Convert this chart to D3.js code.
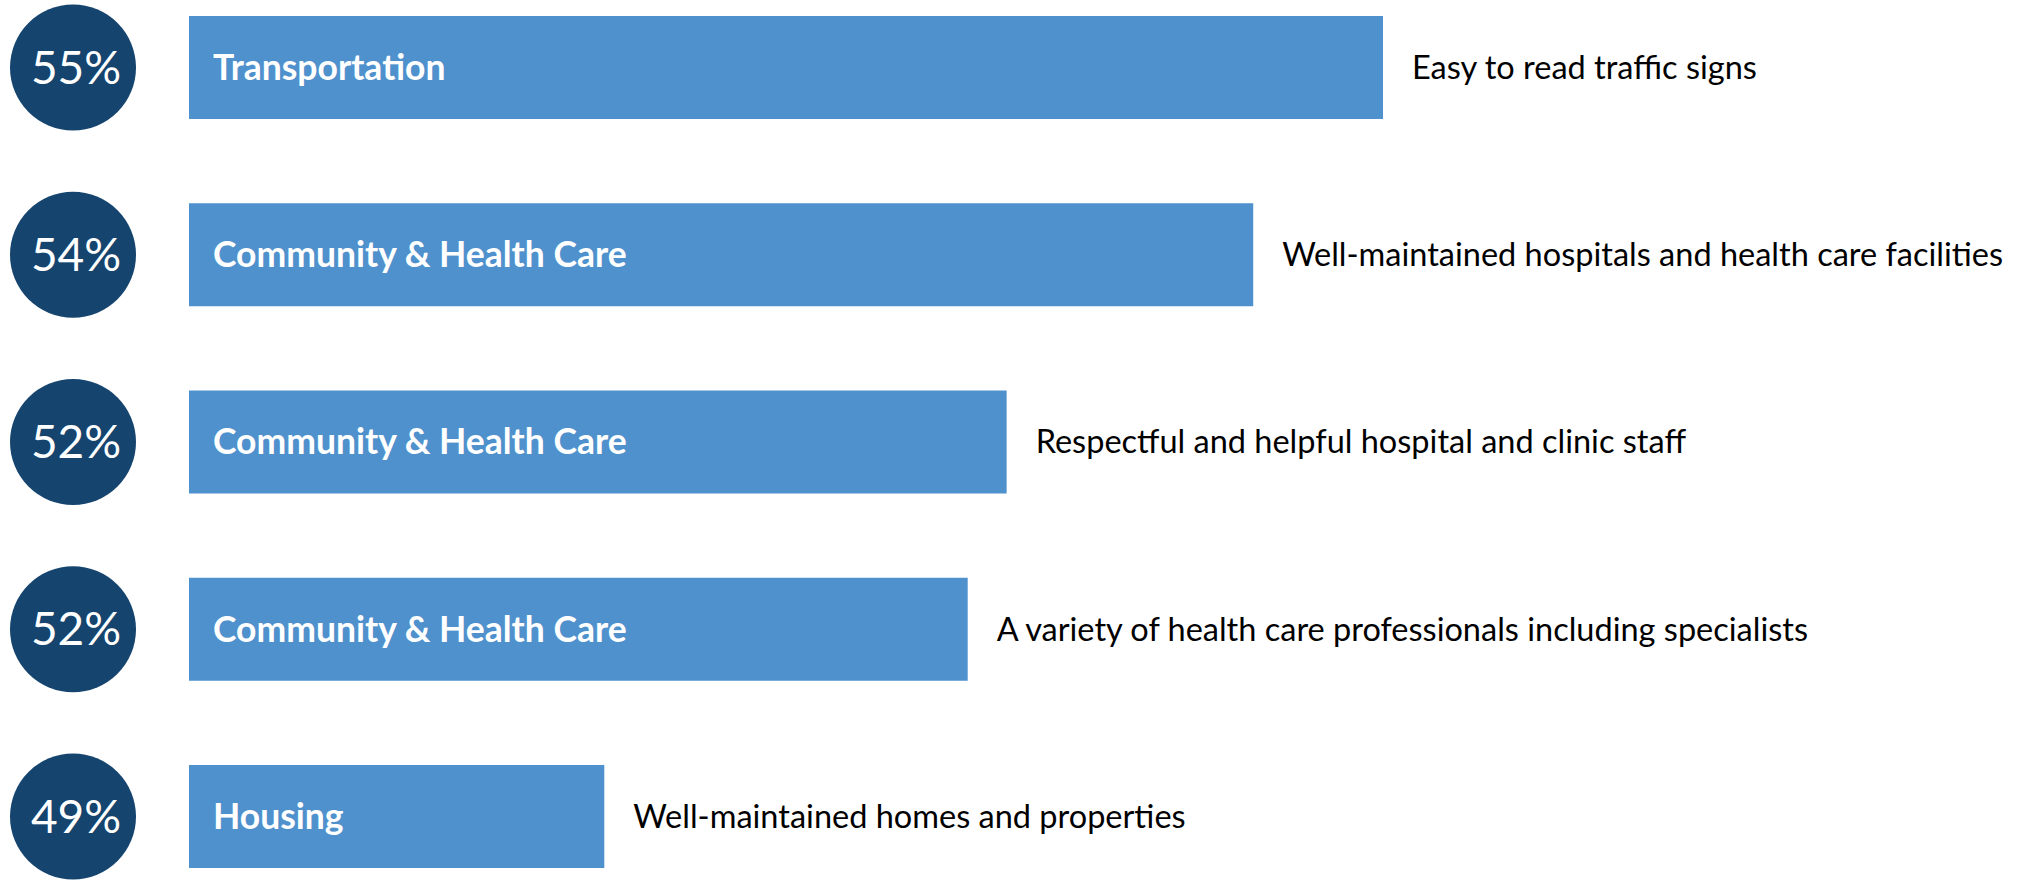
<!DOCTYPE html>
<html>
<head>
<meta charset="utf-8">
<script src="https://cdn.jsdelivr.net/npm/d3@7"></script>
<style>
  body { margin: 0; background: #fff; }
  svg { display: block; }
</style>
</head>
<body>
<script>
// values (labels are rounded to whole percent)
const values = [55.0, 54.0, 52.1, 51.8, 49.0];
const categories = ["Transportation", "Community & Health Care", "Community & Health Care", "Community & Health Care", "Housing"];
const descriptions = [
  "Easy to read traffic signs",
  "Well-maintained hospitals and health care facilities",
  "Respectful and helpful hospital and clinic staff",
  "A variety of health care professionals including specialists",
  "Well-maintained homes and properties"
];

const width = 2022;
const height = 880;

const svg = d3.select("body").append("svg")
  .attr("width", width)
  .attr("height", height);

const x = d3.scaleLinear()
  .domain([45.8, 55])
  .range([189, 1383]);

const y = d3.scaleBand()
  .domain(d3.range(values.length))
  .range([16, 868])
  .paddingInner(0.45)
  .paddingOuter(0);

const font = "Lato, 'Open Sans', sans-serif";

const rows = svg.selectAll("g.row")
  .data(values)
  .enter().append("g")
    .attr("class", "row")
    .attr("transform", (d, i) => `translate(0, ${y(i)})`);

rows.append("rect")
  .attr("x", x(45.8))
  .attr("y", 0)
  .attr("width", d => x(d) - x(45.8))
  .attr("height", y.bandwidth())
  .attr("fill", "#4f91cd");

rows.append("circle")
  .attr("cx", 73)
  .attr("cy", y.bandwidth() / 2)
  .attr("r", 63)
  .attr("fill", "#15446f");

rows.append("text")
  .attr("x", 76)
  .attr("y", y.bandwidth() / 2)
  .attr("dy", "0.35em")
  .attr("text-anchor", "middle")
  .attr("fill", "#fff")
  .style("font-family", font)
  .style("font-size", "46px")
  .text(d => Math.round(d) + "%");

rows.append("text")
  .attr("x", 213)
  .attr("y", y.bandwidth() / 2)
  .attr("dy", "0.35em")
  .attr("fill", "#fff")
  .style("font-family", font)
  .style("font-weight", "bold")
  .style("font-size", "35.5px")
  .text((d, i) => categories[i]);

rows.append("text")
  .attr("x", d => x(d) + 29)
  .attr("y", y.bandwidth() / 2)
  .attr("dy", "0.35em")
  .attr("fill", "#000")
  .style("font-family", font)
  .style("font-size", "32.5px")
  .text((d, i) => descriptions[i]);
</script>
</body>
</html>
